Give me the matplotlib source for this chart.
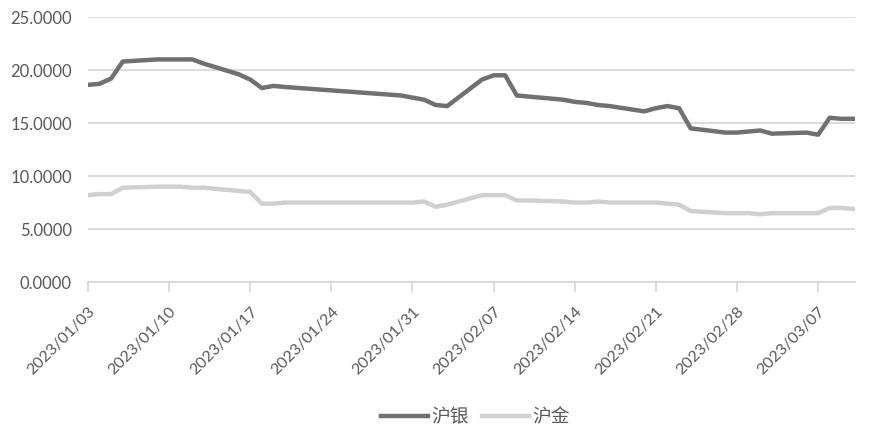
import matplotlib
matplotlib.use("Agg")
import matplotlib.pyplot as plt
import matplotlib.transforms as mtransforms
import pandas as pd

plt.rcParams['font.family'] = ['Lato', 'Noto Sans CJK SC', 'DejaVu Sans']

dates = ['2023-01-03', '2023-01-04', '2023-01-05', '2023-01-06', '2023-01-09', '2023-01-10',
         '2023-01-11', '2023-01-12', '2023-01-13', '2023-01-16', '2023-01-17', '2023-01-18',
         '2023-01-19', '2023-01-20', '2023-01-30', '2023-01-31', '2023-02-01', '2023-02-02',
         '2023-02-03', '2023-02-06', '2023-02-07', '2023-02-08', '2023-02-09', '2023-02-10',
         '2023-02-13', '2023-02-14', '2023-02-15', '2023-02-16', '2023-02-17', '2023-02-20',
         '2023-02-21', '2023-02-22', '2023-02-23', '2023-02-24', '2023-02-27', '2023-02-28',
         '2023-03-01', '2023-03-02', '2023-03-03', '2023-03-06', '2023-03-07', '2023-03-08',
         '2023-03-09', '2023-03-10']

silver = [18.6, 18.7, 19.2, 20.8, 21.0, 21.0, 21.0, 21.0, 20.6, 19.6, 19.1, 18.3,
          18.5, 18.4, 17.6, 17.4, 17.2, 16.7, 16.6, 19.1, 19.5, 19.5, 17.6, 17.5,
          17.2, 17.0, 16.9, 16.7, 16.6, 16.1, 16.4, 16.6, 16.4, 14.5, 14.1, 14.1,
          14.2, 14.3, 14.0, 14.1, 13.9, 15.5, 15.4, 15.4]

gold = [8.2, 8.3, 8.3, 8.9, 9.0, 9.0, 9.0, 8.9, 8.9, 8.6, 8.5, 7.4,
        7.4, 7.5, 7.5, 7.5, 7.6, 7.1, 7.3, 8.2, 8.2, 8.2, 7.7, 7.7,
        7.6, 7.5, 7.5, 7.6, 7.5, 7.5, 7.5, 7.4, 7.3, 6.7, 6.5, 6.5,
        6.5, 6.4, 6.5, 6.5, 6.5, 7.0, 7.0, 6.9]

series_names = ['沪银', '沪金']
tick_dates = ['2023-01-03', '2023-01-10', '2023-01-17', '2023-01-24', '2023-01-31',
              '2023-02-07', '2023-02-14', '2023-02-21', '2023-02-28', '2023-03-07']
y_ticks = [0, 5, 10, 15, 20, 25]

x = pd.to_datetime(dates)

fig = plt.figure(figsize=(8.71, 4.36), dpi=100)
ax = fig.add_axes([0.101, 0.353, 0.881, 0.608])

ax.plot(x, silver, color='#707070', lw=3.2, label=series_names[0], solid_joinstyle='round')
ax.plot(x, gold, color='#d0d0d0', lw=3.2, label=series_names[1], solid_joinstyle='round')

ax.set_ylim(0, 25)
ax.set_yticks(y_ticks)
ax.set_yticklabels([f'{v:.4f}' for v in y_ticks])
ax.yaxis.grid(True, color='#d9d9d9', lw=1.3)
ax.set_axisbelow(True)

xt = pd.to_datetime(tick_dates)
ax.set_xticks(xt)
ax.set_xticklabels([d.strftime('%Y/%m/%d') for d in xt], rotation=45, ha='right',
                   rotation_mode='anchor')
ax.set_xlim(pd.Timestamp('2023-01-03'), pd.Timestamp('2023-03-10 05:00'))

offset = mtransforms.ScaledTranslation(0.09, 0.0, fig.dpi_scale_trans)
for lab in ax.get_xticklabels():
    lab.set_transform(lab.get_transform() + offset)

for s in ['top', 'right', 'left']:
    ax.spines[s].set_visible(False)
ax.spines['bottom'].set_color('#d9d9d9')
ax.spines['bottom'].set_linewidth(1.3)

ax.tick_params(axis='y', length=0, pad=11.5, labelsize=12, labelcolor='#595959')
ax.tick_params(axis='x', length=7, width=1.3, color='#d9d9d9', pad=9, labelsize=11.5,
               labelcolor='#595959')

leg = fig.legend(loc='center', bbox_to_anchor=(0.546, 0.044), ncol=2, frameon=False,
                 fontsize=13.5, handlelength=2.5, columnspacing=0.7, handletextpad=0.2)
for t in leg.get_texts():
    t.set_color('#595959')

fig.savefig('out.png', dpi=100)
